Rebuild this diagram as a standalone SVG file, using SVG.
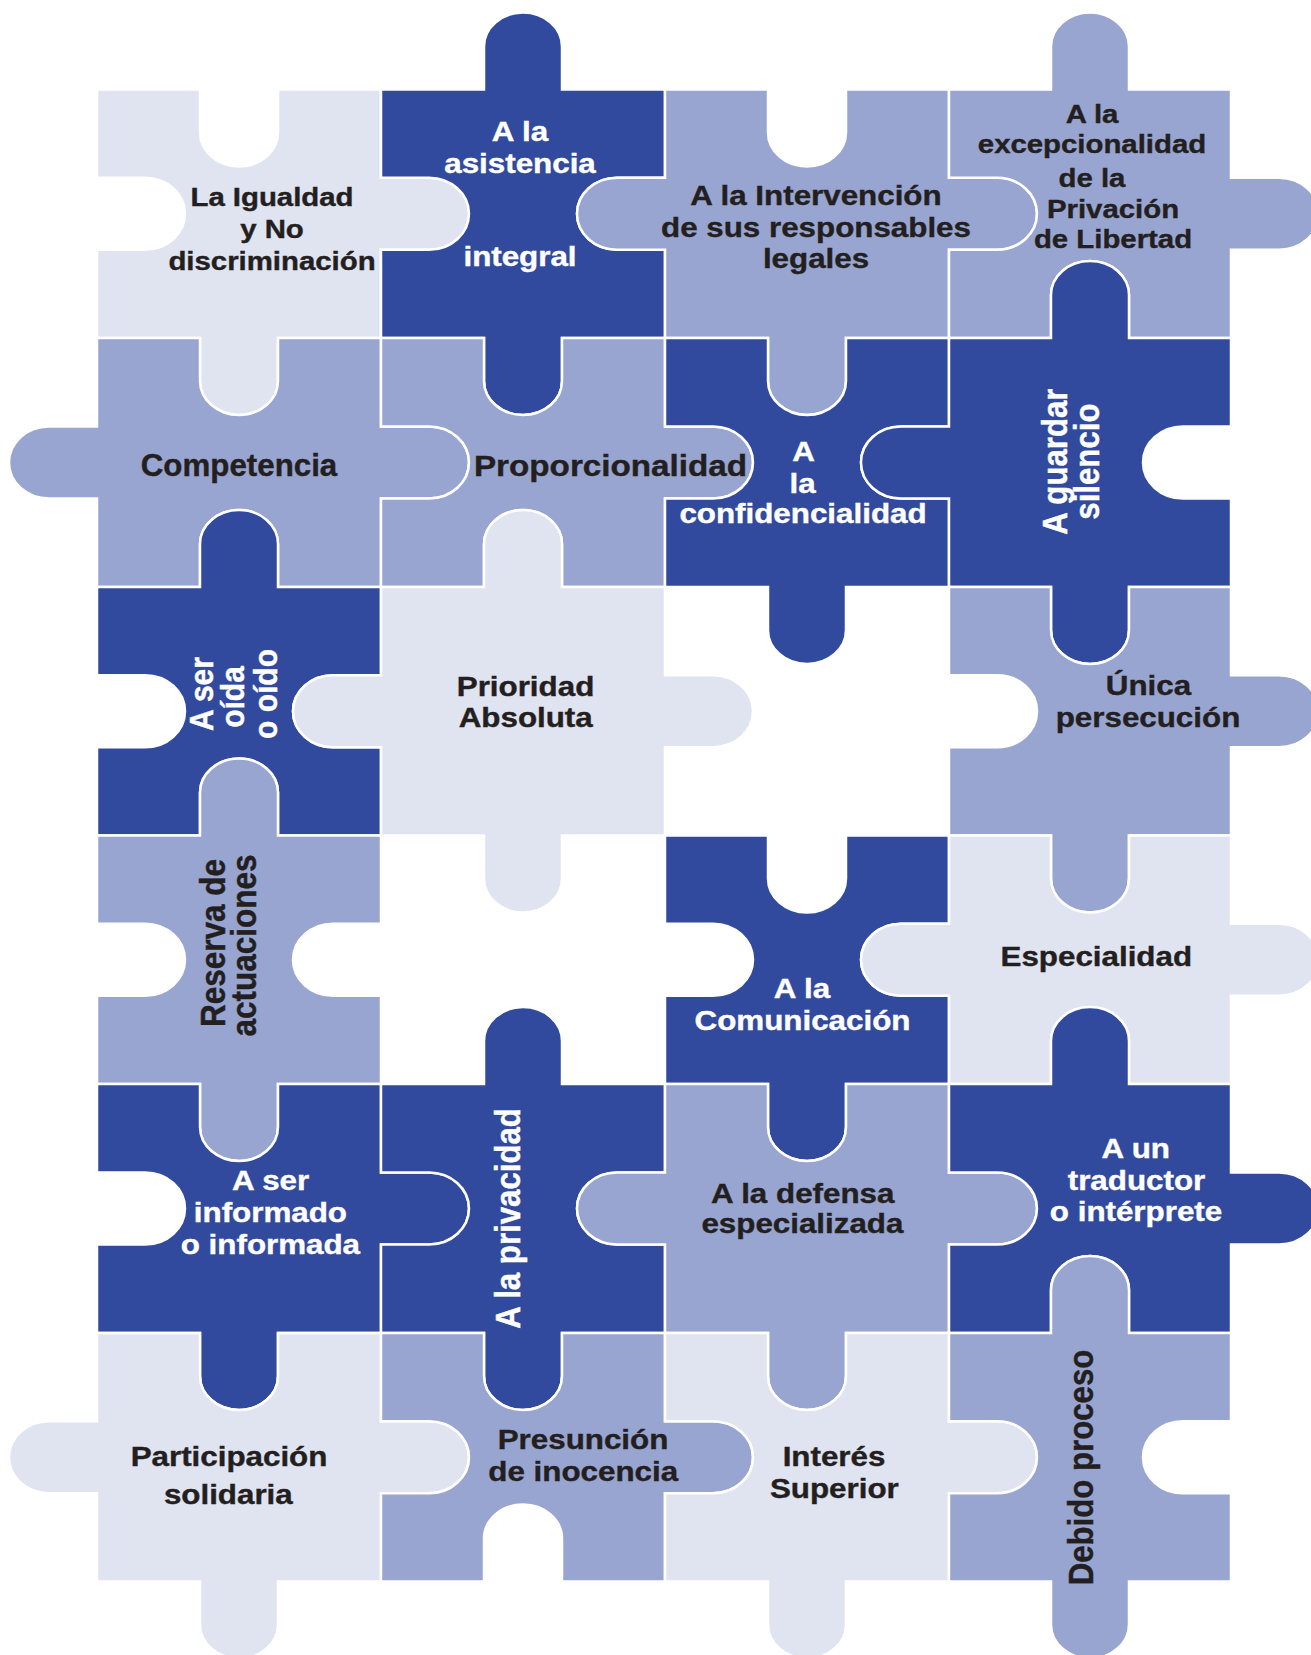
<svg xmlns="http://www.w3.org/2000/svg" width="1311" height="1655" viewBox="0 0 1311 1655">
<style>
.p{stroke:#ffffff;stroke-width:2.5;stroke-linejoin:miter}
.d{fill:#324a9e}.m{fill:#98a5d0}.l{fill:#e0e3f0}
.t{font-family:"Liberation Sans",Arial,Helvetica,sans-serif;font-weight:bold;text-anchor:middle;stroke-width:0.4px}
.k{fill:#231f20;stroke:#231f20}.w{fill:#ffffff;stroke:#ffffff}
.s27{font-size:26.7px}.s28{font-size:28.5px}.s30{font-size:30.2px}.s31{font-size:31.2px}
</style>
<rect width="1311" height="1655" fill="#ffffff"/>
<g id="connectors"/>
<g id="piece-igualdad">
<path class="p l" d="M97,89.5 H200 V132.5 A39,34 0 0 0 278,132.5 V89.5 H381 V177.75 H429 A40,36 0 0 1 429,249.75 H381 V338 H278 V381 A39,34 0 0 1 200,381 V338 H97 V249.75 H145 A40,36 0 0 0 145,177.75 H97 Z"/>
<text class="t k s27" transform="translate(272,206) scale(1.1,1)">La Igualdad</text>
<text class="t k s27" transform="translate(272,238) scale(1.1,1)">y No</text>
<text class="t k s27" transform="translate(272,270) scale(1.1,1)">discriminación</text>
</g>
<g id="piece-asistencia">
<path class="p d" d="M381,89.5 H484 V46.5 A39,34 0 0 1 562,46.5 V89.5 H665 V177.75 H617 A40,36 0 0 0 617,249.75 H665 V338 H562 V381 A39,34 0 0 1 484,381 V338 H381 V249.75 H429 A40,36 0 0 0 429,177.75 H381 Z"/>
<text class="t w s28" transform="translate(520,141) scale(1.1,1)">A la</text>
<text class="t w s28" transform="translate(520,172.5) scale(1.1,1)">asistencia</text>
<text class="t w s28" transform="translate(520,266) scale(1.1,1)">integral</text>
</g>
<g id="piece-intervencion">
<path class="p m" d="M665,89.5 H768 V132.5 A39,34 0 0 0 846,132.5 V89.5 H949 V177.75 H997 A40,36 0 0 1 997,249.75 H949 V338 H846 V381 A39,34 0 0 1 768,381 V338 H665 V249.75 H617 A40,36 0 0 1 617,177.75 H665 Z"/>
<text class="t k s28" transform="translate(816,205) scale(1.1,1)">A la Intervención</text>
<text class="t k s28" transform="translate(816,236.5) scale(1.1,1)">de sus responsables</text>
<text class="t k s28" transform="translate(816,268) scale(1.1,1)">legales</text>
</g>
<g id="piece-excepcionalidad">
<path class="p m" d="M949,89.5 H1051 V46.5 A39,34 0 0 1 1129,46.5 V89.5 H1231 V177.75 H1279 A40,36 0 0 1 1279,249.75 H1231 V338 H1129 V295 A39,34 0 0 0 1051,295 V338 H949 V249.75 H997 A40,36 0 0 0 997,177.75 H949 Z"/>
<text class="t k s27" transform="translate(1092,123.3) scale(1.1,1)">A la</text>
<text class="t k s27" transform="translate(1092,153.3) scale(1.1,1)">excepcionalidad</text>
<text class="t k s27" transform="translate(1092,186.7) scale(1.1,1)">de la</text>
<text class="t k s27" transform="translate(1113,218.3) scale(1.1,1)">Privación</text>
<text class="t k s27" transform="translate(1113,248.3) scale(1.1,1)">de Libertad</text>
</g>
<g id="piece-competencia">
<path class="p m" d="M97,338 H200 V381 A39,34 0 0 0 278,381 V338 H381 V426.5 H429 A40,36 0 0 1 429,498.5 H381 V587 H278 V544 A39,34 0 0 0 200,544 V587 H97 V498.5 H49 A40,36 0 0 1 49,426.5 H97 Z"/>
<text class="t k" font-size="31" transform="translate(239,476) scale(1.01,1)">Competencia</text>
</g>
<g id="piece-proporcionalidad">
<path class="p m" d="M381,338 H484 V381 A39,34 0 0 0 562,381 V338 H665 V426.5 H713 A40,36 0 0 1 713,498.5 H665 V587 H562 V544 A39,34 0 0 0 484,544 V587 H381 V498.5 H429 A40,36 0 0 0 429,426.5 H381 Z"/>
<text class="t k s30" transform="translate(610.5,476) scale(1.1,1)">Proporcionalidad</text>
</g>
<g id="piece-confidencialidad">
<path class="p d" d="M665,338 H768 V381 A39,34 0 0 0 846,381 V338 H949 V426.5 H901 A40,36 0 0 0 901,498.5 H949 V587 H846 V630 A39,34 0 0 1 768,630 V587 H665 V498.5 H713 A40,36 0 0 0 713,426.5 H665 Z"/>
<text class="t w s28" transform="translate(803.5,460.7) scale(1.1,1)">A</text>
<text class="t w s28" transform="translate(802.5,493) scale(1.1,1)">la</text>
<text class="t w s28" transform="translate(803,523) scale(1.1,1)">confidencialidad</text>
</g>
<g id="piece-silencio">
<path class="p d" d="M949,338 H1051 V295 A39,34 0 0 1 1129,295 V338 H1231 V426.5 H1183 A40,36 0 0 0 1183,498.5 H1231 V587 H1129 V630 A39,34 0 0 1 1051,630 V587 H949 V498.5 H901 A40,36 0 0 1 901,426.5 H949 Z"/>
<text class="t w s31" transform="translate(1067,461.6) scale(1.1,1) rotate(-90)">A guardar</text>
<text class="t w s31" transform="translate(1099,461.6) scale(1.1,1) rotate(-90)">silencio</text>
</g>
<g id="piece-oido">
<path class="p d" d="M97,587 H200 V544 A39,34 0 0 1 278,544 V587 H381 V675.25 H333 A40,36 0 0 0 333,747.25 H381 V835.5 H278 V792.5 A39,34 0 0 0 200,792.5 V835.5 H97 V747.25 H145 A40,36 0 0 0 145,675.25 H97 Z"/>
<text class="t w" font-size="30" transform="translate(213,694) scale(1.1,1) rotate(-90)">A ser</text>
<text class="t w" font-size="30" transform="translate(244,697) scale(1.1,1) rotate(-90)">oída</text>
<text class="t w" font-size="30" transform="translate(277,694) scale(1.1,1) rotate(-90)">o oído</text>
</g>
<g id="piece-prioridad">
<path class="p l" d="M381,587 H484 V544 A39,34 0 0 1 562,544 V587 H665 V675.25 H713 A40,36 0 0 1 713,747.25 H665 V835.5 H562 V878.5 A39,34 0 0 1 484,878.5 V835.5 H381 V747.25 H333 A40,36 0 0 1 333,675.25 H381 Z"/>
<text class="t k s28" transform="translate(525.5,695.7) scale(1.1,1)">Prioridad</text>
<text class="t k s28" transform="translate(525.7,726.8) scale(1.1,1)">Absoluta</text>
</g>
<g id="piece-unica">
<path class="p m" d="M949,587 H1051 V630 A39,34 0 0 0 1129,630 V587 H1231 V675.25 H1279 A40,36 0 0 1 1279,747.25 H1231 V835.5 H1129 V878.5 A39,34 0 0 1 1051,878.5 V835.5 H949 V747.25 H997 A40,36 0 0 0 997,675.25 H949 Z"/>
<text class="t k s28" transform="translate(1148.5,694.6) scale(1.1,1)">Única</text>
<text class="t k s28" transform="translate(1148,726.8) scale(1.1,1)">persecución</text>
</g>
<g id="piece-reserva">
<path class="p m" d="M97,835.5 H200 V792.5 A39,34 0 0 1 278,792.5 V835.5 H381 V923.75 H333 A40,36 0 0 0 333,995.75 H381 V1084 H278 V1127 A39,34 0 0 1 200,1127 V1084 H97 V995.75 H145 A40,36 0 0 0 145,923.75 H97 Z"/>
<text class="t k" font-size="31.5" transform="translate(225,943) scale(1.1,1) rotate(-90)">Reserva de</text>
<text class="t k" font-size="31.5" transform="translate(256,945.5) scale(1.1,1) rotate(-90)">actuaciones</text>
</g>
<g id="piece-comunicacion">
<path class="p d" d="M665,835.5 H768 V878.5 A39,34 0 0 0 846,878.5 V835.5 H949 V923.75 H901 A40,36 0 0 0 901,995.75 H949 V1084 H846 V1127 A39,34 0 0 1 768,1127 V1084 H665 V995.75 H713 A40,36 0 0 0 713,923.75 H665 Z"/>
<text class="t w s28" transform="translate(802,998) scale(1.1,1)">A la</text>
<text class="t w s28" transform="translate(802.5,1029.6) scale(1.1,1)">Comunicación</text>
</g>
<g id="piece-especialidad">
<path class="p l" d="M949,835.5 H1051 V878.5 A39,34 0 0 0 1129,878.5 V835.5 H1231 V923.75 H1279 A40,36 0 0 1 1279,995.75 H1231 V1084 H1129 V1041 A39,34 0 0 0 1051,1041 V1084 H949 V995.75 H901 A40,36 0 0 1 901,923.75 H949 Z"/>
<text class="t k s28" transform="translate(1096.3,966) scale(1.1,1)">Especialidad</text>
</g>
<g id="piece-informado">
<path class="p d" d="M97,1084 H200 V1127 A39,34 0 0 0 278,1127 V1084 H381 V1172.5 H429 A40,36 0 0 1 429,1244.5 H381 V1333 H278 V1376 A39,34 0 0 1 200,1376 V1333 H97 V1244.5 H145 A40,36 0 0 0 145,1172.5 H97 Z"/>
<text class="t w s28" transform="translate(270.6,1190.3) scale(1.1,1)">A ser</text>
<text class="t w s28" transform="translate(270.4,1222) scale(1.1,1)">informado</text>
<text class="t w s28" transform="translate(270.4,1254) scale(1.1,1)">o informada</text>
</g>
<g id="piece-privacidad">
<path class="p d" d="M381,1084 H484 V1041 A39,34 0 0 1 562,1041 V1084 H665 V1172.5 H617 A40,36 0 0 0 617,1244.5 H665 V1333 H562 V1376 A39,34 0 0 1 484,1376 V1333 H381 V1244.5 H429 A40,36 0 0 0 429,1172.5 H381 Z"/>
<text class="t w s31" transform="translate(520,1218.5) scale(1.1,1) rotate(-90)">A la privacidad</text>
</g>
<g id="piece-defensa">
<path class="p m" d="M665,1084 H768 V1127 A39,34 0 0 0 846,1127 V1084 H949 V1172.5 H997 A40,36 0 0 1 997,1244.5 H949 V1333 H846 V1376 A39,34 0 0 1 768,1376 V1333 H665 V1244.5 H617 A40,36 0 0 1 617,1172.5 H665 Z"/>
<text class="t k s28" transform="translate(802.7,1202.7) scale(1.1,1)">A la defensa</text>
<text class="t k s28" transform="translate(802.4,1232.7) scale(1.1,1)">especializada</text>
</g>
<g id="piece-traductor">
<path class="p d" d="M949,1084 H1051 V1041 A39,34 0 0 1 1129,1041 V1084 H1231 V1172.5 H1279 A40,36 0 0 1 1279,1244.5 H1231 V1333 H1129 V1290 A39,34 0 0 0 1051,1290 V1333 H949 V1244.5 H997 A40,36 0 0 0 997,1172.5 H949 Z"/>
<text class="t w s28" transform="translate(1135.7,1158.4) scale(1.1,1)">A un</text>
<text class="t w s28" transform="translate(1136.5,1190.3) scale(1.1,1)">traductor</text>
<text class="t w s28" transform="translate(1136,1221) scale(1.1,1)">o intérprete</text>
</g>
<g id="piece-participacion">
<path class="p l" d="M97,1333 H200 V1376 A39,34 0 0 0 278,1376 V1333 H381 V1421.25 H429 A40,36 0 0 1 429,1493.25 H381 V1581.5 H278 V1624.5 A39,34 0 0 1 200,1624.5 V1581.5 H97 V1493.25 H49 A40,36 0 0 1 49,1421.25 H97 Z"/>
<text class="t k s28" transform="translate(229,1466.4) scale(1.1,1)">Participación</text>
<text class="t k s28" transform="translate(228.3,1503.5) scale(1.1,1)">solidaria</text>
</g>
<g id="piece-presuncion">
<path class="p m" d="M381,1333 H484 V1376 A39,34 0 0 0 562,1376 V1333 H665 V1421.25 H713 A40,36 0 0 1 713,1493.25 H665 V1581.5 H562 V1538.5 A39,34 0 0 0 484,1538.5 V1581.5 H381 V1493.25 H429 A40,36 0 0 0 429,1421.25 H381 Z"/>
<text class="t k s28" transform="translate(583,1448.7) scale(1.1,1)">Presunción</text>
<text class="t k s28" transform="translate(583.2,1480.5) scale(1.1,1)">de inocencia</text>
</g>
<g id="piece-interes">
<path class="p l" d="M665,1333 H768 V1376 A39,34 0 0 0 846,1376 V1333 H949 V1421.25 H997 A40,36 0 0 1 997,1493.25 H949 V1581.5 H846 V1624.5 A39,34 0 0 1 768,1624.5 V1581.5 H665 V1493.25 H713 A40,36 0 0 0 713,1421.25 H665 Z"/>
<text class="t k s28" transform="translate(834,1466.4) scale(1.1,1)">Interés</text>
<text class="t k s28" transform="translate(834.3,1498) scale(1.1,1)">Superior</text>
</g>
<g id="piece-debido">
<path class="p m" d="M949,1333 H1051 V1290 A39,34 0 0 1 1129,1290 V1333 H1231 V1421.25 H1183 A40,36 0 0 0 1183,1493.25 H1231 V1581.5 H1129 V1624.5 A39,34 0 0 1 1051,1624.5 V1581.5 H949 V1493.25 H997 A40,36 0 0 0 997,1421.25 H949 Z"/>
<text class="t k s31" transform="translate(1093,1467.5) scale(1.1,1) rotate(-90)">Debido proceso</text>
</g>
</svg>
